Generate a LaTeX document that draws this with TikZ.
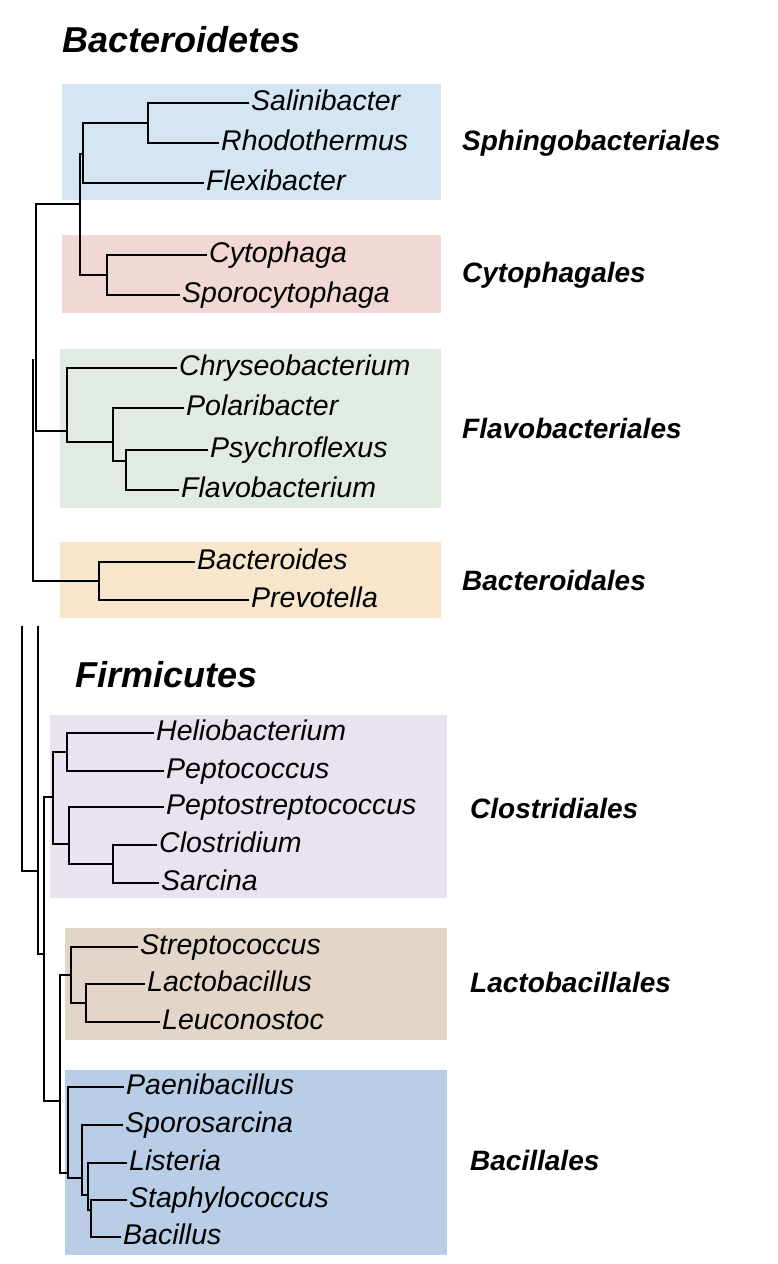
\documentclass[tikz,border=0pt]{standalone}
\usepackage{fontspec}
\setmainfont{Liberation Sans}
\definecolor{cBlue}{HTML}{D5E6F3}
\definecolor{cRed}{HTML}{F1D8D4}
\definecolor{cGreen}{HTML}{E2EBE2}
\definecolor{cOrange}{HTML}{F8E6CC}
\definecolor{cPurple}{HTML}{E8E3EE}
\definecolor{cTan}{HTML}{E3D6C8}
\definecolor{cSteel}{HTML}{B9CDE6}
\begin{document}
\begin{tikzpicture}[x=1pt,y=-1pt,
  taxon/.style={anchor=west,inner sep=2pt,text height=21pt,text depth=6pt,font=\fontsize{28.5}{30}\selectfont\itshape},
  clade/.style={anchor=west,inner sep=0pt,font=\fontsize{28}{30}\selectfont\bfseries\itshape},
  phylum/.style={anchor=west,inner sep=0pt,font=\fontsize{36}{40}\selectfont\bfseries\itshape},
  br/.style={line width=1.6pt},
  box/.style={draw=none}]
\useasboundingbox (0,0) rectangle (778,1264);
% boxes
\fill[cBlue] (62,84) rectangle (441,200);
\fill[cRed] (62,235) rectangle (441,313);
\fill[cGreen] (60,349) rectangle (441,508);
\fill[cOrange] (60,542) rectangle (441,618);
\fill[cPurple] (50,715) rectangle (447,898);
\fill[cTan] (65,928) rectangle (447,1040);
\fill[cSteel] (65,1070) rectangle (447,1255);
% titles
\node[phylum] (tB) at (62,40) {Bacteroidetes};
\node[phylum] (tF) at (75,675) {Firmicutes};
% clade labels
\node[clade] (c1) at (462,143) {Sphingobacteriales};
\node[clade] (c2) at (462,275) {Cytophagales};
\node[clade] (c3) at (462,428) {Flavobacteriales};
\node[clade] (c4) at (462,580) {Bacteroidales};
\node[clade] (c5) at (470,808) {Clostridiales};
\node[clade] (c6) at (470,982) {Lactobacillales};
\node[clade] (c7) at (470,1160) {Bacillales};
% taxa
\node[taxon] (sal) at (249,103) {Salinibacter};
\node[taxon] (rho) at (219,143) {Rhodothermus};
\node[taxon] (fle) at (204,183) {Flexibacter};
\node[taxon] (cyt) at (207,255) {Cytophaga};
\node[taxon] (spo) at (180,295) {Sporocytophaga};
\node[taxon] (chr) at (177,368) {Chryseobacterium};
\node[taxon] (pol) at (184,408) {Polaribacter};
\node[taxon] (psy) at (208,450) {Psychroflexus};
\node[taxon] (fla) at (179,490) {Flavobacterium};
\node[taxon] (bac) at (195,562) {Bacteroides};
\node[taxon] (pre) at (249,600) {Prevotella};
\node[taxon] (hel) at (154,733) {Heliobacterium};
\node[taxon] (pep) at (164,771) {Peptococcus};
\node[taxon] (pst) at (164,807) {Peptostreptococcus};
\node[taxon] (clo) at (157,845) {Clostridium};
\node[taxon] (sar) at (159,883) {Sarcina};
\node[taxon] (str) at (138,947) {Streptococcus};
\node[taxon] (lac) at (145,984) {Lactobacillus};
\node[taxon] (leu) at (160,1022) {Leuconostoc};
\node[taxon] (pae) at (124,1087) {Paenibacillus};
\node[taxon] (sps) at (123,1125) {Sporosarcina};
\node[taxon] (lis) at (127,1163) {Listeria};
\node[taxon] (sta) at (127,1200) {Staphylococcus};
\node[taxon] (bci) at (121,1237) {Bacillus};
% Bacteroidetes tree
\draw[br] (sal.west) -| (148,143) -- (rho.west);
\draw[br] (148,123) -| (83,183) -- (fle.west);
\draw[br] (83,154) -| (80,275) -- (107,275);
\draw[br] (cyt.west) -| (107,295) -- (spo.west);
\draw[br] (80,204) -| (36,431) -- (67,431);
\draw[br] (chr.west) -| (67,442) -- (113,442);
\draw[br] (pol.west) -| (113,461) -- (126,461);
\draw[br] (psy.west) -| (126,490) -- (fla.west);
\draw[br] (33,359) |- (99,581);
\draw[br] (bac.west) -| (99,600) -- (pre.west);
% Firmicutes tree
\draw[br] (hel.west) -| (67,771) -- (pep.west);
\draw[br] (67,752) -| (53,844) -- (69,844);
\draw[br] (pst.west) -| (69,864) -- (113,864);
\draw[br] (clo.west) -| (113,883) -- (sar.west);
\draw[br] (53,797) -| (44,1101) -- (60,1101);
\draw[br] (44,954) -| (38,626);
\draw[br] (38,871) -| (22,626);
\draw[br] (str.west) -| (71,1003) -- (86,1003);
\draw[br] (lac.west) -| (86,1022) -- (leu.west);
\draw[br] (71,975) -| (60,1173) -- (68,1173);
\draw[br] (pae.west) -| (68,1178) -- (82,1178);
\draw[br] (sps.west) -| (82,1195) -- (88,1195);
\draw[br] (lis.west) -| (88,1210) -- (91,1210);
\draw[br] (sta.west) -| (91,1237) -- (bci.west);
\end{tikzpicture}
\end{document}
